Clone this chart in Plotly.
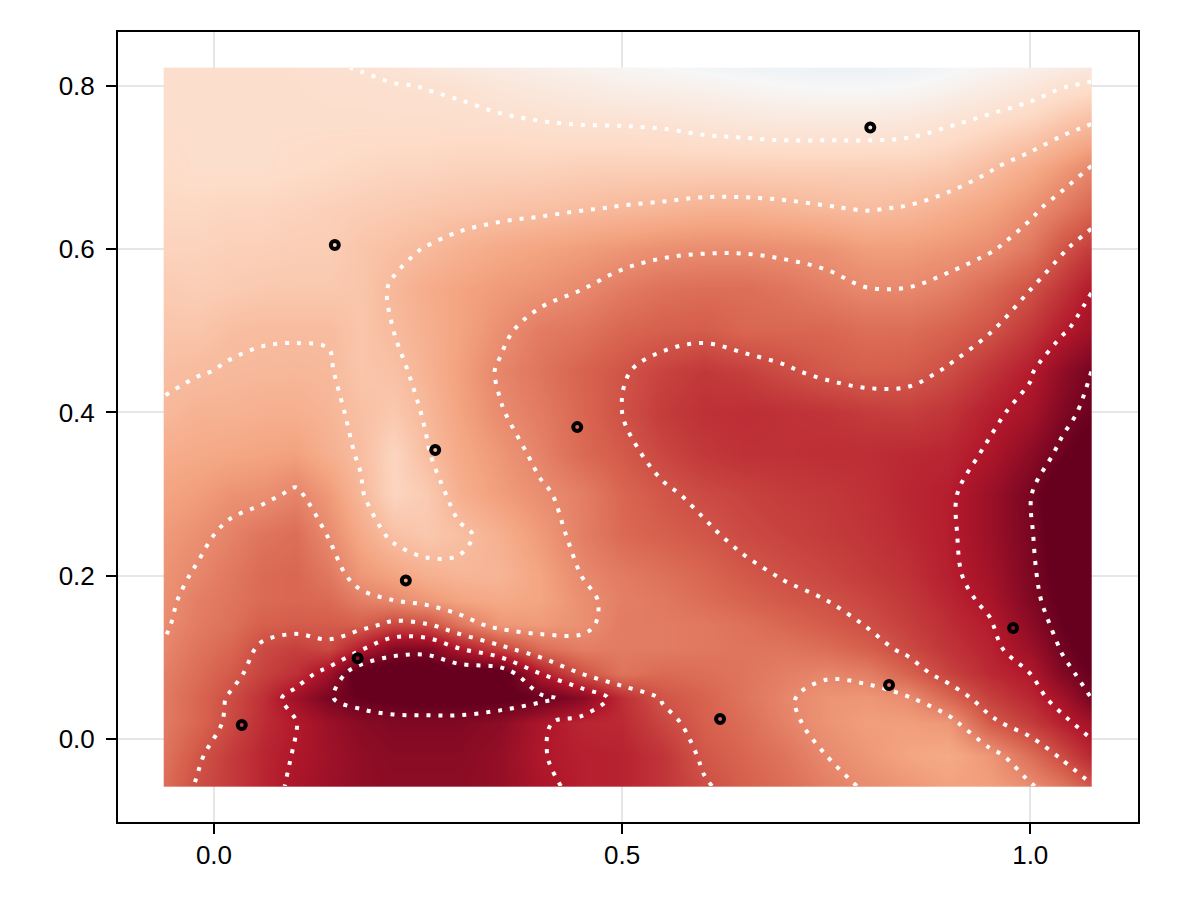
# plot.py
import numpy as np
import plotly.graph_objects as go

x_grid = [-0.0613, -0.02, 0.02, 0.06, 0.10, 0.14, 0.18, 0.22, 0.26, 0.30, 0.35, 0.40, 0.45,
          0.50, 0.55, 0.60, 0.65, 0.70, 0.75, 0.80, 0.85, 0.90, 0.95, 1.00, 1.04, 1.0748]
y_grid = [-0.0576, -0.02, 0.02, 0.05, 0.08, 0.11, 0.14, 0.17, 0.20, 0.25, 0.30, 0.35, 0.40,
          0.45, 0.50, 0.55, 0.60, 0.65, 0.70, 0.75, 0.80, 0.822]

# rows run bottom to top, values
z_grid = [
    [22, 17.5, 15, 12, 9, 7, 5.5, 5, 5, 5, 6, 9, 11, 11.5, 14, 17.5, 20, 22, 24.5, 26.5, 28, 29.5, 29, 26.5, 23, 18.5],
    [23, 18.7, 15, 12, 9.7, 7.5, 5.5, 4.5, 4.5, 4.5, 6, 9.8, 11, 11.5, 14, 18.8, 21, 23, 26, 28, 30, 31, 28, 22, 17, 12],
    [24, 21, 17, 13, 10.2, 7, 4.5, 3.5, 3.5, 3.5, 5, 9.2, 12, 12.5, 16.5, 20, 22, 25, 27.5, 29, 29, 28, 19.2, 15, 11, 8],
    [24, 21, 17.5, 13.5, 7.5, 2.4, 0, -1, -1.5, -1.5, -1, 0.5, 4.5, 13, 18.5, 20.5, 23, 25.5, 27.5, 28, 26.5, 21, 15.5, 12, 8, 2],
    [24.5, 22, 19.3, 16, 13.5, 7.5, -3, -3, -3, -3, -3, 10, 18, 23, 21.5, 22, 23, 24.5, 25.5, 24.5, 20.5, 16, 12.5, 10, 3.5, 0],
    [25.7, 23, 21, 17, 15.5, 17, 10.5, 4, 3.5, 9.5, 16, 22, 24.5, 24, 24, 23.5, 23, 23, 22, 20, 17, 14, 11.5, 7, 1.5, -2],
    [26.5, 24, 22.5, 20, 19.5, 19.5, 20, 16.5, 17.5, 23, 28, 28.5, 27, 24, 24, 23.5, 22.5, 21, 19.5, 17.8, 15.5, 13, 10.5, 5, 0, -3],
    [27, 24.5, 23, 21.5, 21, 21.5, 24.5, 26, 28, 30, 31, 30, 27, 24.5, 23.5, 22, 20.5, 19, 18, 16.5, 14.5, 12, 9, 3.5, -1, -4],
    [27.5, 25.5, 23.5, 21.5, 21, 23.5, 28, 30, 32, 33, 33, 30, 26, 24, 22.5, 21, 19, 17.7, 16.5, 15, 13.5, 11, 8, 3, -2, -5],
    [28.5, 27, 25, 23, 22, 26.2, 31, 35, 36.5, 35, 32, 28.5, 24.5, 21.5, 20, 18.7, 17, 16, 15, 14, 12.5, 10.8, 7, 2.5, -3, -6],
    [30, 29, 27.5, 27, 25.3, 28.5, 33.5, 39, 37, 32, 29, 26.6, 24.5, 21, 18.7, 17, 16, 15, 14.5, 13.5, 12, 10.8, 7, 2.3, -4, -7],
    [31.5, 31, 30.5, 30, 29.5, 32, 34.5, 39, 34.4, 31, 28, 25, 21.5, 19.3, 16.5, 14.5, 13.5, 13.5, 13, 13, 12.5, 12, 9.4, 5, 0.8, -2.5],
    [33.6, 32.5, 32.5, 32, 32, 33, 35, 36.5, 33.5, 30, 26.3, 24, 21, 18, 15, 13.5, 13, 13.5, 14, 15, 15.5, 14, 11, 8.5, 3.5, 0.5],
    [34.6, 34.2, 33.7, 33.5, 33.3, 33.6, 36, 35.2, 32.5, 29.5, 25.5, 23, 20.5, 18.5, 16, 14.5, 15.5, 17.4, 19, 20, 19.5, 17.5, 14, 10.5, 5.5, 2],
    [36, 36, 34.7, 34.3, 34.3, 34.3, 36, 34, 32, 30, 27, 24, 23, 21, 20, 19.5, 21, 21, 21, 22, 22, 20.5, 18.3, 14.5, 10.5, 7.5],
    [37, 37.5, 37, 36.5, 36.5, 36.5, 36, 33.5, 31.5, 30, 28.5, 27.5, 26, 24, 22.5, 22, 22, 23, 24.5, 25.8, 25.8, 24.5, 21.5, 18, 14, 10.2],
    [38.5, 38.5, 38, 38, 37.5, 37.5, 36, 35, 33.8, 32.5, 31, 30, 29, 28, 27, 26.5, 26.5, 27, 27.5, 29, 29, 28, 26.5, 23.5, 18.5, 15],
    [39.5, 39.5, 39, 39, 38.5, 38, 37.5, 37, 36.5, 36, 35.5, 35, 34.3, 33.7, 33.2, 32.5, 32.5, 33, 33.7, 34.3, 33.7, 32, 30, 27, 24, 21],
    [40.5, 41, 41, 41, 40.5, 40, 39.5, 39, 39, 38.5, 38.5, 38.5, 38, 38, 38, 38, 38, 38, 38, 38, 38, 37, 34.5, 31.5, 28.5, 25.7],
    [41, 41, 41, 41, 41, 41, 41, 41, 41, 41, 41, 41.5, 41.8, 41.9, 42.2, 43, 43.5, 44, 44, 44, 43.5, 42, 40, 38, 35.5, 33.5],
    [41, 41, 41, 41, 41.2, 41.5, 41.6, 41.8, 42.1, 42.5, 44, 45, 46, 47, 47.5, 48, 49, 50, 50.5, 50.5, 50, 48.5, 46.5, 44.5, 42.3, 41.2],
    [41, 41, 41, 41, 41.3, 41.8, 42.1, 43, 44, 45, 46, 47, 48, 49, 50, 51, 52, 52.5, 53, 53, 52.5, 51, 49, 47.5, 46, 44.5],
]

point_x = [0.034, 0.176, 0.235, 0.148, 0.271, 0.445, 0.62, 0.804, 0.827, 0.979]
point_y = [0.017, 0.099, 0.194, 0.605, 0.354, 0.382, 0.0245, 0.749, 0.066, 0.136]

x_ticks = [0.0, 0.5, 1.0]
y_ticks = [0.0, 0.2, 0.4, 0.6, 0.8]

rdbu = [
    [0.0, "#67001f"], [1 / 6, "#b2182b"], [2 / 6, "#d6604d"], [3 / 6, "#f4a582"],
    [4 / 6, "#fddbc7"], [5 / 6, "#f7f7f7"], [1.0, "#d1e5f0"],
]

x_arr = np.array(x_grid)
y_arr = np.array(y_grid)
z_arr = np.array(z_grid)

# plotly pads a heatmap by half a cell, so add a sliver cell on each side
x_pad = np.concatenate([[x_arr[0] - 0.0002], x_arr, [x_arr[-1] + 0.0002]])
y_pad = np.concatenate([[y_arr[0] - 0.0002], y_arr, [y_arr[-1] + 0.0002]])
z_pad = np.pad(z_arr, 1, mode="edge")

fig = go.Figure()
fig.add_trace(go.Heatmap(
    x=x_pad, y=y_pad, z=z_pad,
    colorscale=rdbu, zmin=0, zmax=60,
    zsmooth="best", showscale=False, hoverinfo="skip",
))
fig.add_trace(go.Contour(
    x=x_arr, y=y_arr, z=z_arr,
    autocontour=False,
    contours=dict(start=2, end=42, size=8, coloring="none"),
    line=dict(color="white", width=4, dash="4px,8px", smoothing=1.0),
    showscale=False, hoverinfo="skip",
))
fig.add_trace(go.Scatter(
    x=point_x, y=point_y, mode="markers",
    marker=dict(symbol="circle-open", size=8, color="black", line=dict(color="black", width=4)),
    hoverinfo="skip", showlegend=False,
))

axis_style = dict(
    showline=True, linecolor="black", linewidth=2, mirror=True,
    ticks="outside", ticklen=10, tickwidth=1.5, tickcolor="black",
    showgrid=True, gridcolor="#e6e6e6", gridwidth=1.5,
    zeroline=False, tickformat=".1f",
    tickfont=dict(family="Liberation Sans", size=26, color="black"),
)
fig.update_layout(
    width=1200, height=900,
    margin=dict(l=118, r=62, t=32, b=78),
    paper_bgcolor="white", plot_bgcolor="white",
    showlegend=False,
    xaxis=dict(range=[-0.1176, 1.132], tickvals=x_ticks, ticklabelstandoff=-1, **axis_style),
    yaxis=dict(range=[-0.1017, 0.866], tickvals=y_ticks, ticklabelstandoff=6, **axis_style),
)

fig.write_html("out.html", config={"displayModeBar": False},
               post_script="document.body.style.margin='0';")
